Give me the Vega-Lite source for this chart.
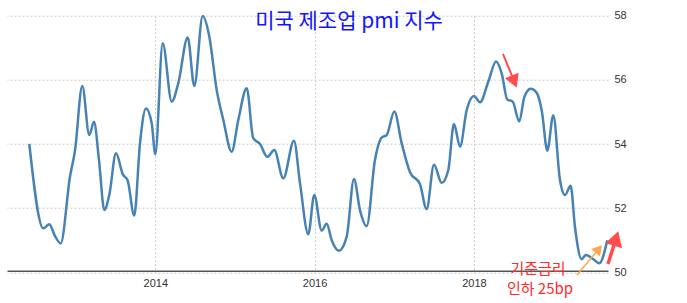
{
  "$schema": "https://vega.github.io/schema/vega-lite/v6.json",
  "autosize": {"type": "none"},
  "padding": {"left": 7, "top": 15.7, "right": 79, "bottom": 30.7},
  "width": 601,
  "height": 256.6,
  "background": "white",
  "config": {"view": {"stroke": null}},
  "datasets": {
    "pmi": [
      {"x": 2012.418, "y": 54.0}, {"x": 2012.594, "y": 51.37}, {"x": 2012.669, "y": 51.5}, {"x": 2012.741, "y": 51.13},
      {"x": 2012.812, "y": 50.9}, {"x": 2012.929, "y": 52.98}, {"x": 2012.992, "y": 53.8}, {"x": 2013.083, "y": 55.81},
      {"x": 2013.171, "y": 54.28}, {"x": 2013.230, "y": 54.69}, {"x": 2013.293, "y": 53.5}, {"x": 2013.360, "y": 51.94},
      {"x": 2013.422, "y": 52.41}, {"x": 2013.507, "y": 53.71}, {"x": 2013.591, "y": 53.06}, {"x": 2013.653, "y": 52.86},
      {"x": 2013.736, "y": 51.77}, {"x": 2013.808, "y": 54.03}, {"x": 2013.883, "y": 55.11}, {"x": 2013.955, "y": 54.65},
      {"x": 2014.0, "y": 53.68}, {"x": 2014.093, "y": 57.14}, {"x": 2014.206, "y": 55.32}, {"x": 2014.289, "y": 55.9},
      {"x": 2014.407, "y": 57.32}, {"x": 2014.490, "y": 55.81}, {"x": 2014.595, "y": 57.99}, {"x": 2014.678, "y": 57.35},
      {"x": 2014.771, "y": 55.68}, {"x": 2014.854, "y": 54.75}, {"x": 2014.959, "y": 53.76}, {"x": 2015.042, "y": 54.75},
      {"x": 2015.148, "y": 55.74}, {"x": 2015.230, "y": 54.18}, {"x": 2015.315, "y": 54.0}, {"x": 2015.406, "y": 53.6},
      {"x": 2015.494, "y": 53.81}, {"x": 2015.607, "y": 52.93}, {"x": 2015.741, "y": 54.1}, {"x": 2015.817, "y": 52.78},
      {"x": 2015.921, "y": 51.19}, {"x": 2015.996, "y": 52.41}, {"x": 2016.089, "y": 51.3}, {"x": 2016.152, "y": 51.51},
      {"x": 2016.215, "y": 51.0}, {"x": 2016.306, "y": 50.67}, {"x": 2016.403, "y": 51.11}, {"x": 2016.495, "y": 52.91},
      {"x": 2016.570, "y": 51.94}, {"x": 2016.654, "y": 51.44}, {"x": 2016.758, "y": 53.5}, {"x": 2016.842, "y": 54.2},
      {"x": 2016.905, "y": 54.28}, {"x": 2017.001, "y": 55.01}, {"x": 2017.094, "y": 54.02}, {"x": 2017.198, "y": 53.12},
      {"x": 2017.323, "y": 52.75}, {"x": 2017.407, "y": 51.97}, {"x": 2017.499, "y": 53.35}, {"x": 2017.596, "y": 52.79},
      {"x": 2017.679, "y": 53.19}, {"x": 2017.750, "y": 54.62}, {"x": 2017.826, "y": 53.92}, {"x": 2017.910, "y": 55.06},
      {"x": 2018.001, "y": 55.5}, {"x": 2018.077, "y": 55.3}, {"x": 2018.181, "y": 55.94}, {"x": 2018.278, "y": 56.57},
      {"x": 2018.349, "y": 56.2}, {"x": 2018.419, "y": 55.39}, {"x": 2018.487, "y": 55.32}, {"x": 2018.570, "y": 54.7},
      {"x": 2018.633, "y": 55.46}, {"x": 2018.713, "y": 55.72}, {"x": 2018.792, "y": 55.58}, {"x": 2018.855, "y": 55.0},
      {"x": 2018.922, "y": 53.79}, {"x": 2018.997, "y": 54.9}, {"x": 2019.081, "y": 52.88}, {"x": 2019.144, "y": 52.41},
      {"x": 2019.215, "y": 52.7}, {"x": 2019.269, "y": 51.42}, {"x": 2019.353, "y": 50.41}, {"x": 2019.407, "y": 50.54},
      {"x": 2019.499, "y": 50.41}, {"x": 2019.574, "y": 50.28}, {"x": 2019.675, "y": 51.0}
    ],
    "shafts": [
      {"id": "red1", "x": 2018.365, "y": 56.807, "x2": 2018.507, "y2": 55.95},
      {"id": "orange", "x": 2019.294, "y": 49.916, "x2": 2019.568, "y2": 50.727},
      {"id": "red2", "x": 2019.684, "y": 50.259, "x2": 2019.784, "y2": 51.054}
    ],
    "heads": [
      {"id": "red1", "x": 2018.507, "y": 55.95},
      {"id": "orange", "x": 2019.568, "y": 50.727},
      {"id": "red2", "x": 2019.784, "y": 51.054}
    ],
    "labels": [
      {"id": "title", "x": 2016.432, "y": 57.805, "text": "미국 제조업 pmi 지수"},
      {"id": "note", "x": 2018.805, "y": 50.118, "text": "기준금리"},
      {"id": "note", "x": 2018.830, "y": 49.464, "text": "인하 25bp"}
    ]
  },
  "encoding": {
    "x": {
      "field": "x", "type": "quantitative",
      "scale": {"domain": [2012.138, 2019.684], "nice": false, "zero": false},
      "axis": {
        "title": null, "values": [2014, 2016, 2018], "format": "d",
        "grid": true, "gridColor": "#c8c8c8", "gridDash": [2, 2], "gridWidth": 1,
        "domain": true, "domainColor": "#555555", "domainWidth": 1.5,
        "ticks": false, "labelPadding": 7, "offset": -1.5,
        "labelFont": "Liberation Sans", "labelFontSize": 11, "labelColor": "#333333"
      }
    },
    "y": {
      "field": "y", "type": "quantitative",
      "scale": {"domain": [50, 58], "nice": false, "zero": false},
      "axis": {
        "title": null, "orient": "right", "values": [50, 52, 54, 56, 58],
        "grid": true, "gridColor": "#c8c8c8", "gridDash": [2, 2], "gridWidth": 1,
        "domain": false, "ticks": false, "labelPadding": 6,
        "labelFont": "Liberation Sans", "labelFontSize": 11, "labelColor": "#333333"
      }
    }
  },
  "layer": [
    {
      "data": {"name": "pmi"},
      "mark": {"type": "line", "interpolate": "monotone", "color": "#4682b4", "strokeWidth": 2.5}
    },
    {
      "data": {"name": "shafts"},
      "transform": [{"filter": "datum.id == 'red1'"}],
      "mark": {"type": "rule", "color": "#ff4d4d", "strokeWidth": 2},
      "encoding": {"x2": {"field": "x2"}, "y2": {"field": "y2"}}
    },
    {
      "data": {"name": "heads"},
      "transform": [{"filter": "datum.id == 'red1'"}],
      "mark": {"type": "point", "shape": "triangle-up", "filled": true, "opacity": 1, "color": "#ff4d4d", "size": 220, "angle": 157.6}
    },
    {
      "data": {"name": "shafts"},
      "transform": [{"filter": "datum.id == 'orange'"}],
      "mark": {"type": "rule", "color": "#ffa64d", "strokeWidth": 1.5},
      "encoding": {"x2": {"field": "x2"}, "y2": {"field": "y2"}}
    },
    {
      "data": {"name": "heads"},
      "transform": [{"filter": "datum.id == 'orange'"}],
      "mark": {"type": "point", "shape": "triangle-up", "filled": true, "opacity": 1, "color": "#ffa64d", "size": 130, "angle": 40}
    },
    {
      "data": {"name": "shafts"},
      "transform": [{"filter": "datum.id == 'red2'"}],
      "mark": {"type": "rule", "color": "#ff4d4d", "strokeWidth": 3.5},
      "encoding": {"x2": {"field": "x2"}, "y2": {"field": "y2"}}
    },
    {
      "data": {"name": "heads"},
      "transform": [{"filter": "datum.id == 'red2'"}],
      "mark": {"type": "point", "shape": "triangle-up", "filled": true, "opacity": 1, "color": "#ff4d4d", "size": 300, "angle": 17.4}
    },
    {
      "data": {"name": "labels"},
      "transform": [{"filter": "datum.id == 'title'"}],
      "mark": {"type": "text", "font": "Noto Sans CJK KR", "fontSize": 21, "color": "#1414ff", "align": "center", "baseline": "middle"},
      "encoding": {"text": {"field": "text"}}
    },
    {
      "data": {"name": "labels"},
      "transform": [{"filter": "datum.id == 'note'"}],
      "mark": {"type": "text", "font": "Noto Sans CJK KR", "fontSize": 15, "color": "#ff2a2a", "align": "center", "baseline": "middle"},
      "encoding": {"text": {"field": "text"}}
    }
  ]
}
